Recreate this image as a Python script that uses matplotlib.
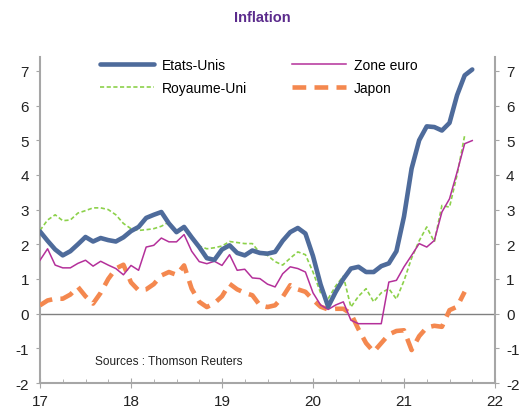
import matplotlib
matplotlib.use("Agg")
import matplotlib.pyplot as plt
import numpy as np

plt.rcParams['font.family'] = ['Liberation Sans', 'DejaVu Sans']
plt.rcParams['axes.unicode_minus'] = False

year_labels = ["17", "18", "19", "20", "21", "22"]

us = [2.37, 2.1, 1.85, 1.68, 1.8, 2.0, 2.21, 2.08, 2.18, 2.12, 2.08, 2.2,
      2.38, 2.5, 2.76, 2.85, 2.93, 2.6, 2.35, 2.5, 2.2, 1.92, 1.6, 1.55,
      1.85, 1.97, 1.75, 1.68, 1.82, 1.75, 1.73, 1.78, 2.1, 2.35, 2.47, 2.31,
      1.66, 0.84, 0.2, 0.63, 1.0, 1.3, 1.35, 1.2, 1.2, 1.37, 1.45, 1.8,
      2.8, 4.18, 5.0, 5.4, 5.38, 5.28, 5.5, 6.3, 6.87, 7.04]

euro = [1.54, 1.87, 1.4, 1.32, 1.32, 1.45, 1.54, 1.37, 1.51, 1.4, 1.3, 1.12,
        1.39, 1.25, 1.92, 1.97, 2.18, 2.07, 2.07, 2.28, 1.8, 1.5, 1.44, 1.51,
        1.39, 1.70, 1.25, 1.28, 1.03, 1.01, 0.85, 0.77, 1.15, 1.35, 1.3, 1.2,
        0.6, 0.25, 0.12, 0.25, 0.34, -0.19, -0.29, -0.29, -0.29, -0.29, 0.91, 0.96,
        1.35, 1.68, 2.02, 1.92, 2.11, 2.93, 3.31, 4.08, 4.9, 4.99]

uk = [2.4, 2.7, 2.85, 2.68, 2.7, 2.9, 2.97, 3.05, 3.05, 3.0, 2.85, 2.6,
      2.45, 2.4, 2.42, 2.45, 2.52, 2.64, 2.35, 2.45, 2.2, 1.95, 1.87, 1.9,
      1.95, 2.08, 2.05, 2.02, 2.02, 1.75, 1.68, 1.5, 1.4, 1.6, 1.78, 1.7,
      1.2, 0.6, 0.43, 0.8, 1.08, 0.19, 0.5, 0.72, 0.34, 0.6, 0.72, 0.42,
      0.95, 1.6, 2.1, 2.5, 2.07, 3.12, 3.07, 4.0, 5.14]

japon = [0.24, 0.38, 0.43, 0.43, 0.55, 0.77, 0.5, 0.29, 0.6, 1.0, 1.3, 1.41,
         0.9, 0.67, 0.7, 0.85, 1.1, 1.2, 1.12, 1.39, 0.72, 0.34, 0.19, 0.3,
         0.5, 0.86, 0.7, 0.6, 0.53, 0.24, 0.19, 0.24, 0.48, 0.82, 0.7, 0.63,
         0.4, 0.2, 0.12, 0.14, 0.14, 0.0, -0.45, -0.85, -1.1, -0.85, -0.6, -0.5,
         -0.48, -1.05, -0.65, -0.4, -0.35, -0.38, 0.1, 0.2, 0.63]

fig = plt.figure(figsize=(5.2, 4.1), dpi=100)
ax = fig.add_axes([40/520, 1-384/410, 455/520, 326/410])

c_us = "#4e6b9b"
c_eu = "#b4309a"
c_uk = "#8cd14a"
c_jp = "#f4884f"

l_us, = ax.plot(np.arange(len(us)), us, color=c_us, lw=3.3, solid_capstyle='round', zorder=5)
l_uk, = ax.plot(np.arange(len(uk)), uk, color=c_uk, lw=1.2, dashes=(2.5, 1.5), zorder=4)
l_eu, = ax.plot(np.arange(len(euro)), euro, color=c_eu, lw=1.1, zorder=4)
l_jp, = ax.plot(np.arange(len(japon)), japon, color=c_jp, lw=3.3, dashes=(3.0, 1.8), zorder=3)

ax.axhline(0, color="#808080", lw=1.0, zorder=2)

ax.set_xlim(0, 60)
ax.set_ylim(-2, 7.4)
ax.set_xticks(np.arange(0, 61, 12))
ax.set_xticklabels(year_labels)
ax.set_xticks(np.arange(0, 61, 3), minor=True)
ax.set_yticks(np.arange(-2, 8, 1))

for s in ["left", "right", "bottom"]:
    ax.spines[s].set_color("#a6a6a6")
    ax.spines[s].set_linewidth(1.5)
ax.spines["top"].set_visible(False)

ax.tick_params(axis='y', which='both', direction='out', length=3, color="#a6a6a6",
               labelsize=11, labelcolor="#222222", left=True, right=True,
               labelleft=True, labelright=True, pad=5)
ax.tick_params(axis='x', which='major', direction='inout', length=7, color="#a6a6a6",
               labelsize=11, labelcolor="#222222", pad=4.5)
ax.tick_params(axis='x', which='minor', direction='in', length=3, color="#a6a6a6")

leg = ax.legend(handles=[l_us, l_uk, l_eu, l_jp],
                labels=["Etats-Unis", "Royaume-Uni", "Zone euro", "Japon"],
                ncol=2, loc='upper left', bbox_to_anchor=(0.105, 1.036),
                frameon=False, fontsize=10, handlelength=3.9, columnspacing=3.2,
                labelspacing=0.65, handletextpad=0.55)

ax.text(0.12, 0.068, "Sources : Thomson Reuters", transform=ax.transAxes,
        fontsize=8.6, color="#222222", ha='left', va='center')

fig.text(262/520, 1-18/410, "Inflation", ha='center', va='center',
         fontsize=10.5, fontweight='bold', color="#5b2b8c")

fig.savefig("out.png", dpi=100)
